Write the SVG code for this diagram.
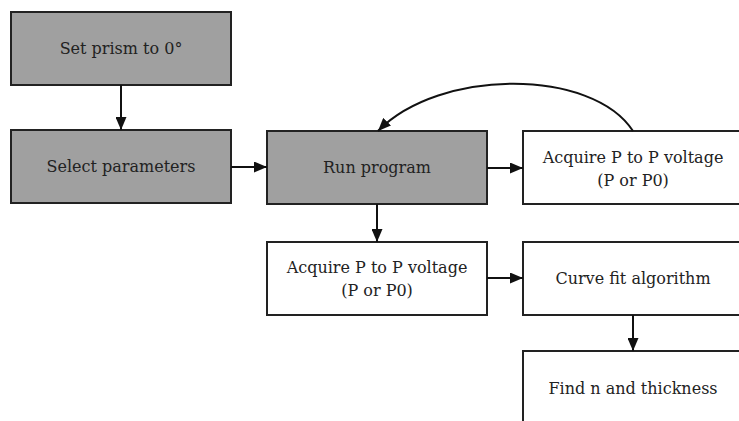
<svg xmlns="http://www.w3.org/2000/svg" width="739" height="421" viewBox="0 0 739 421">
<style>
.box{stroke:#222;stroke-width:2}
.g{fill:#a0a0a0}
.w{fill:#fff}
text{font-family:"DejaVu Serif","Liberation Serif",serif;font-size:16px;fill:#222;text-anchor:middle}
.c{fill:none;stroke:#111;stroke-width:2}
</style>
<defs>
<marker id="ah" viewBox="0 0 13 11" refX="13" refY="5.5" markerWidth="13" markerHeight="11" markerUnits="userSpaceOnUse" orient="auto">
<path d="M0,0 L13,5.5 L0,11 z" fill="#111"/>
</marker>
</defs>
<rect width="739" height="421" fill="#fff"/>
<g id="set-prism"><rect class="box g" x="11" y="12" width="220" height="73"/><text x="121" y="54">Set prism to 0°</text></g>
<g id="select-params"><rect class="box g" x="11" y="130" width="220" height="73"/><text x="121" y="172">Select parameters</text></g>
<g id="run-program"><rect class="box g" x="267" y="131" width="220" height="73"/><text x="377" y="173">Run program</text></g>
<g id="acquire-1"><rect class="box w" x="523" y="131" width="220" height="73"/><text x="633" y="163">Acquire P to P voltage</text><text x="633" y="186">(P or P0)</text></g>
<g id="acquire-2"><rect class="box w" x="267" y="242" width="220" height="73"/><text x="377" y="273">Acquire P to P voltage</text><text x="377" y="296">(P or P0)</text></g>
<g id="curve-fit"><rect class="box w" x="523" y="242" width="220" height="73"/><text x="633" y="284">Curve fit algorithm</text></g>
<g id="find-n"><rect class="box w" x="523" y="351" width="220" height="73"/><text x="633" y="394">Find n and thickness</text></g>
<g id="connectors">
<path class="c" d="M121,85 V130" marker-end="url(#ah)"/>
<path class="c" d="M231,167 H267" marker-end="url(#ah)"/>
<path class="c" d="M487,168 H523" marker-end="url(#ah)"/>
<path class="c" d="M377,204 V242" marker-end="url(#ah)"/>
<path class="c" d="M487,278 H523" marker-end="url(#ah)"/>
<path class="c" d="M633,315 V351" marker-end="url(#ah)"/>
<path class="c" d="M633,131 C592,68 440,68 378,131" marker-end="url(#ah)"/>
</g>
</svg>
